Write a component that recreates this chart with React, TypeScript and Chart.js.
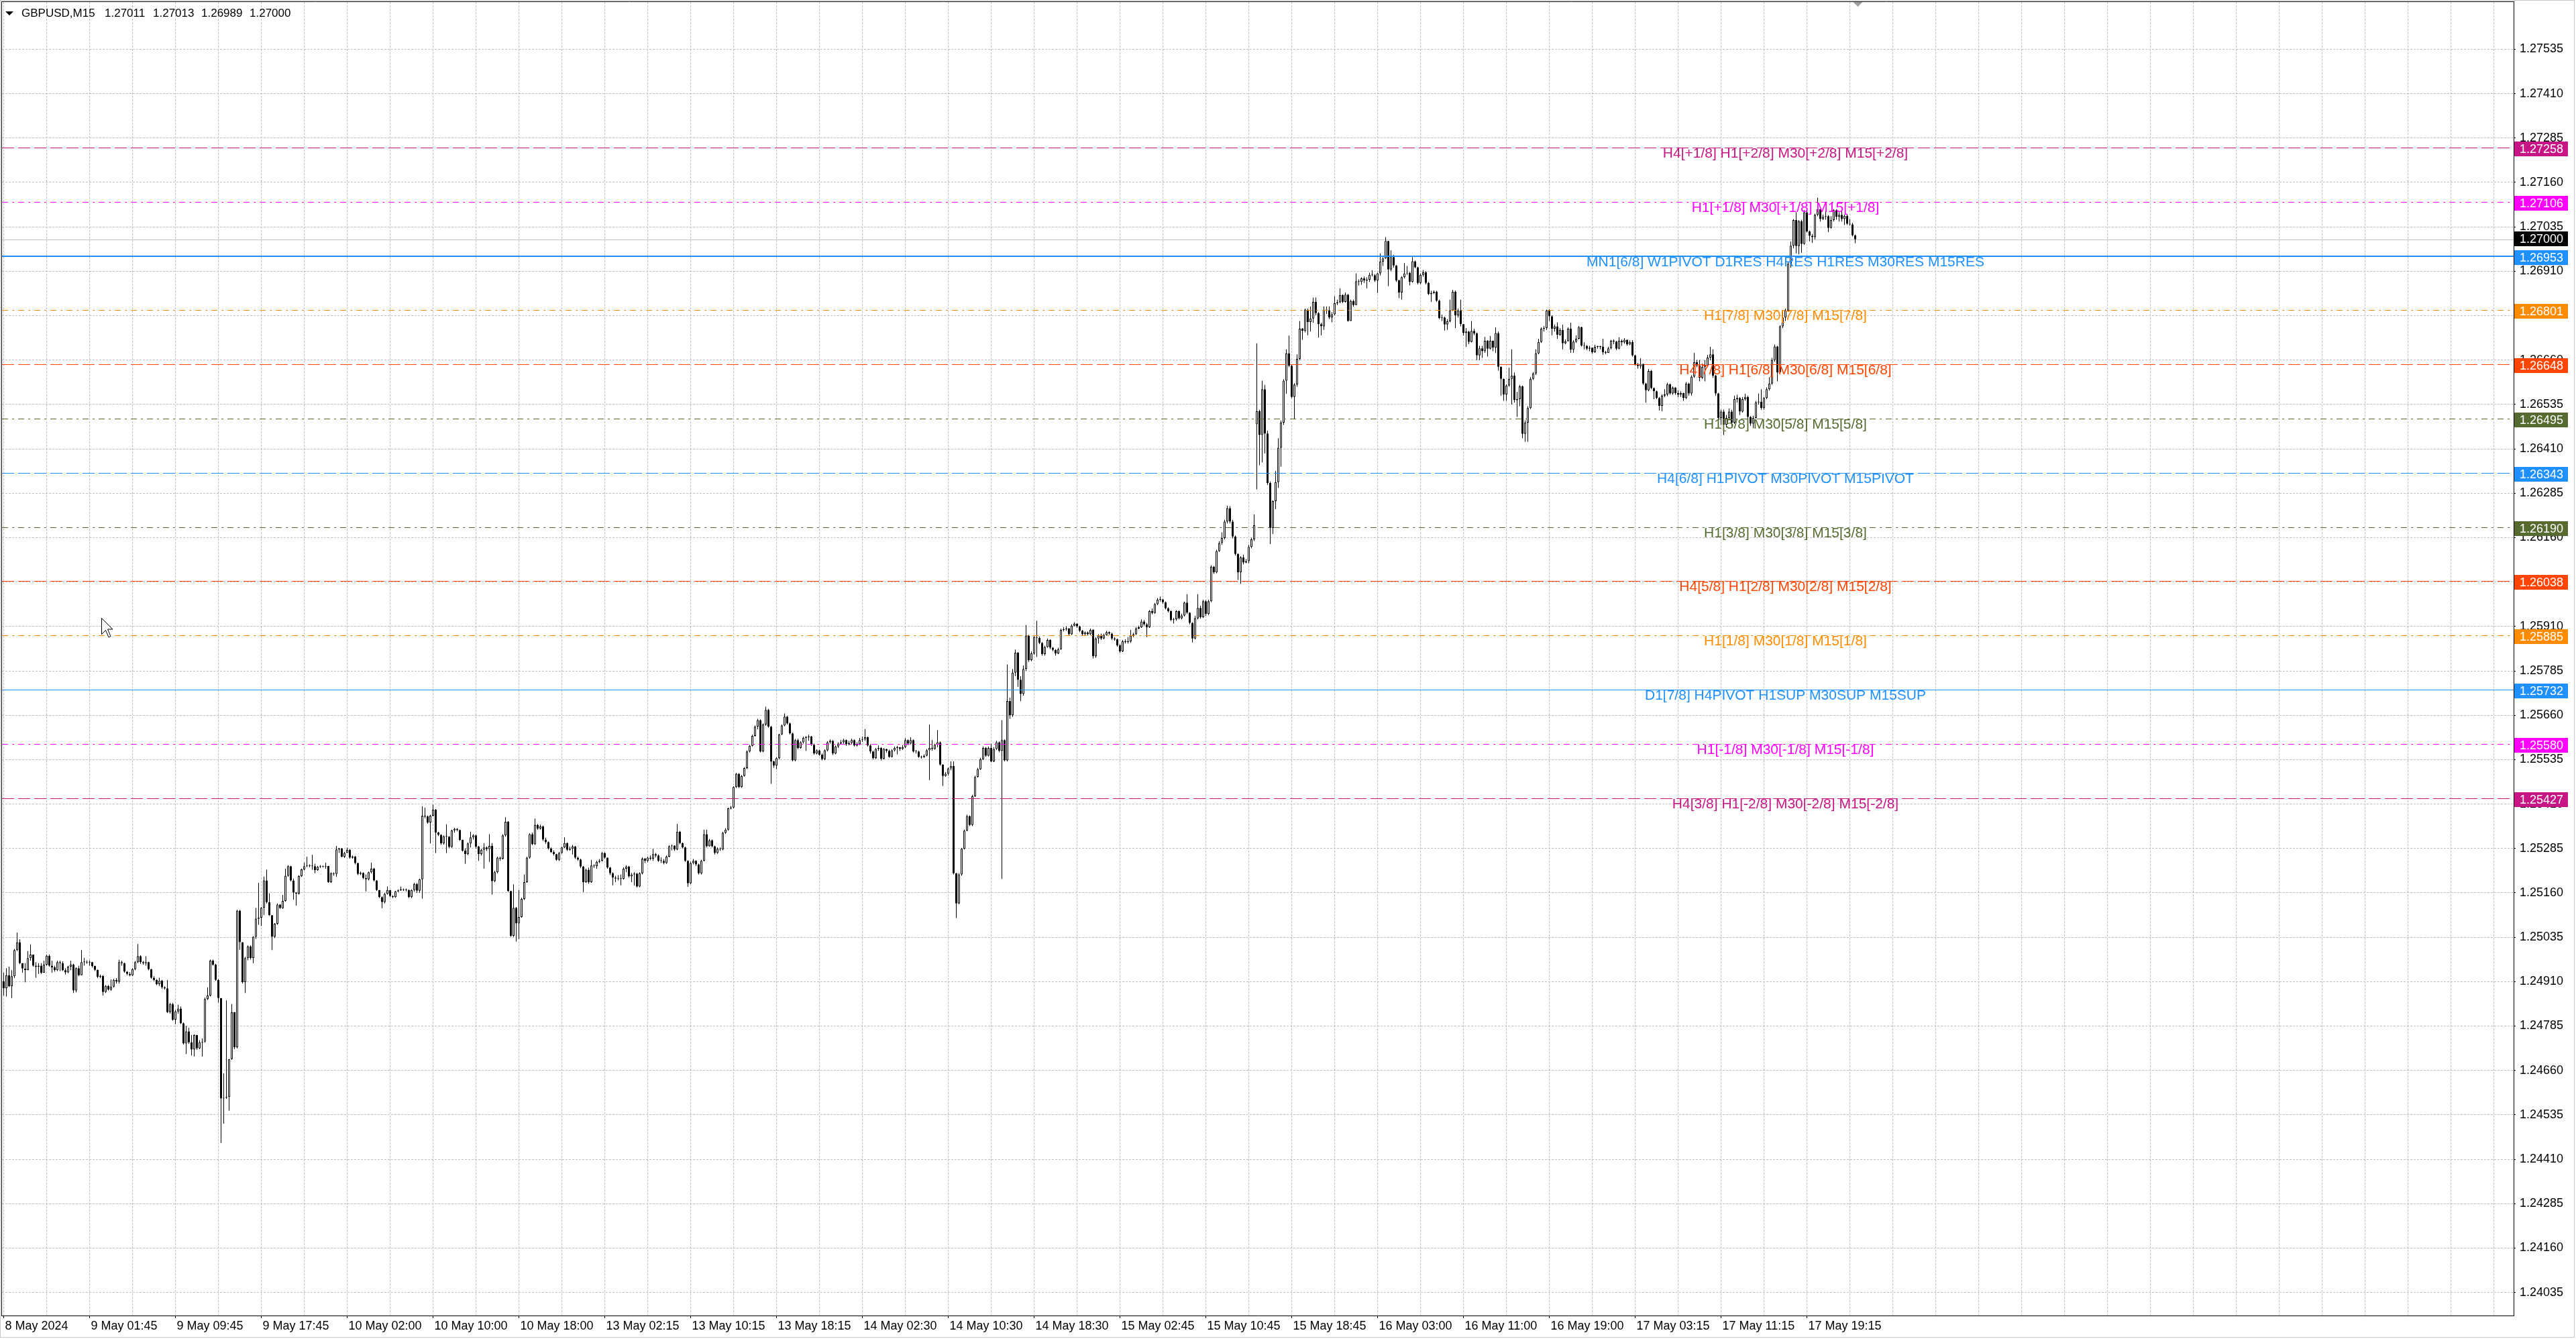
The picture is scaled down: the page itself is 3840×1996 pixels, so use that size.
import React, { useEffect, useRef } from 'react';
import { Chart, registerables } from 'chart.js';

Chart.register(...registerables);

// ---------------- data ----------------
const SYMBOL = 'GBPUSD,M15';
const HEADER_OHLC = ['1.27011', '1.27013', '1.26989', '1.27000'];

// prices are stored in points (0.00001) above 1.24000
const PRICE_BASE = 1.24;
const POINT = 0.00001;
const FIRST_OPEN = 911;
const OPEN_GAPS: [number, number][] = [[467, 2479]];

const CLOSE = [
  891, 928, 897, 925, 999, 1021, 962, 947, 942, 976,
  986, 955, 952, 955, 935, 958, 983, 955, 950, 942,
  965, 962, 942, 936, 952, 958, 885, 948, 928, 965,
  966, 964, 965, 954, 943, 924, 926, 881, 898, 888,
  896, 915, 910, 965, 962, 938, 932, 928, 945, 965,
  982, 965, 962, 965, 945, 921, 915, 903, 913, 894,
  891, 824, 847, 803, 826, 834, 793, 736, 770, 739,
  719, 760, 722, 739, 741, 861, 871, 969, 958, 915,
  864, 581, 583, 585, 692, 824, 725, 1110, 1021, 908,
  976, 1009, 976, 1036, 1087, 1090, 1118, 1195, 1134, 1097,
  1036, 1073, 1127, 1117, 1137, 1208, 1235, 1195, 1161, 1158,
  1207, 1226, 1235, 1237, 1236, 1235, 1224, 1233, 1235, 1234,
  1236, 1190, 1215, 1213, 1282, 1285, 1262, 1272, 1281, 1259,
  1262, 1244, 1213, 1216, 1202, 1198, 1218, 1228, 1195, 1168,
  1148, 1134, 1157, 1168, 1151, 1148, 1164, 1167, 1170, 1168,
  1168, 1148, 1168, 1185, 1166, 1198, 1377, 1375, 1358, 1377,
  1394, 1330, 1323, 1299, 1319, 1318, 1289, 1336, 1340, 1337,
  1309, 1279, 1269, 1299, 1316, 1322, 1290, 1269, 1281, 1288,
  1283, 1292, 1193, 1218, 1259, 1256, 1322, 1360, 1165, 1039,
  1118, 1074, 1092, 1143, 1190, 1259, 1325, 1297, 1351, 1341,
  1347, 1310, 1303, 1285, 1275, 1269, 1253, 1272, 1288, 1300,
  1281, 1284, 1290, 1259, 1254, 1234, 1190, 1225, 1190, 1237,
  1235, 1247, 1250, 1272, 1259, 1231, 1215, 1203, 1200, 1200,
  1199, 1228, 1234, 1206, 1212, 1214, 1178, 1215, 1256, 1250,
  1259, 1256, 1269, 1265, 1250, 1250, 1244, 1262, 1291, 1293,
  1282, 1332, 1300, 1288, 1250, 1187, 1244, 1250, 1240, 1215,
  1250, 1325, 1291, 1308, 1291, 1272, 1284, 1282, 1329, 1338,
  1398, 1400, 1458, 1495, 1458, 1489, 1511, 1558, 1574, 1602,
  1628, 1646, 1558, 1634, 1675, 1628, 1530, 1518, 1539, 1606,
  1631, 1656, 1637, 1609, 1533, 1590, 1568, 1584, 1596, 1598,
  1600, 1577, 1552, 1561, 1549, 1536, 1561, 1584, 1588, 1552,
  1572, 1580, 1584, 1590, 1578, 1582, 1590, 1575, 1578, 1590,
  1592, 1598, 1575, 1558, 1539, 1565, 1568, 1537, 1565, 1560,
  1543, 1561, 1568, 1570, 1565, 1570, 1590, 1580, 1590, 1558,
  1558, 1543, 1542, 1546, 1561, 1568, 1565, 1577, 1584, 1521,
  1489, 1495, 1510, 1517, 1215, 1130, 1212, 1284, 1335, 1376,
  1351, 1432, 1486, 1508, 1536, 1568, 1546, 1568, 1530, 1565,
  1584, 1560, 1590, 1533, 1700, 1660, 1780, 1836, 1760, 1720,
  1790, 1884, 1815, 1834, 1880, 1878, 1864, 1832, 1852, 1872,
  1850, 1844, 1834, 1846, 1900, 1902, 1904, 1888, 1912, 1918,
  1910, 1898, 1888, 1893, 1888, 1900, 1826, 1876, 1884, 1876,
  1886, 1894, 1890, 1876, 1874, 1857, 1840, 1868, 1866, 1868,
  1884, 1888, 1904, 1908, 1924, 1916, 1908, 1953, 1948, 1973,
  1985, 1986, 1978, 1961, 1953, 1928, 1930, 1953, 1933, 1941,
  1977, 1949, 1920, 1876, 1933, 1962, 1936, 1981, 1945, 1981,
  2078, 2062, 2122, 2145, 2159, 2205, 2243, 2205, 2163, 2114,
  2062, 2104, 2090, 2094, 2134, 2155, 2195, 2516, 2449, 2578,
  2453, 2314, 2187, 2263, 2316, 2413, 2484, 2602, 2679, 2644,
  2556, 2591, 2663, 2748, 2742, 2802, 2767, 2777, 2824, 2792,
  2761, 2755, 2802, 2800, 2780, 2789, 2820, 2823, 2843, 2824,
  2844, 2770, 2826, 2815, 2882, 2880, 2890, 2884, 2886, 2900,
  2899, 2884, 2904, 2937, 2946, 2995, 2915, 2950, 2926, 2884,
  2850, 2893, 2904, 2906, 2880, 2938, 2921, 2877, 2900, 2907,
  2877, 2846, 2849, 2852, 2827, 2778, 2780, 2760, 2769, 2800,
  2852, 2786, 2799, 2761, 2736, 2740, 2711, 2742, 2735, 2673,
  2693, 2685, 2714, 2692, 2714, 2695, 2736, 2641, 2607, 2563,
  2588, 2607, 2616, 2547, 2550, 2586, 2452, 2484, 2525, 2607,
  2622, 2679, 2711, 2748, 2750, 2799, 2783, 2748, 2755, 2731,
  2745, 2707, 2713, 2748, 2689, 2712, 2720, 2753, 2701, 2700,
  2692, 2695, 2682, 2697, 2697, 2698, 2682, 2680, 2693, 2714,
  2712, 2692, 2714, 2710, 2717, 2704, 2711, 2673, 2648, 2643,
  2649, 2594, 2575, 2629, 2581, 2572, 2553, 2531, 2560, 2563,
  2592, 2566, 2582, 2567, 2562, 2567, 2553, 2594, 2566, 2613,
  2654, 2645, 2610, 2641, 2645, 2667, 2676, 2616, 2566, 2497,
  2515, 2478, 2497, 2515, 2484, 2550, 2553, 2515, 2550, 2556,
  2500, 2481, 2497, 2541, 2543, 2525, 2553, 2578, 2594, 2660,
  2698, 2625, 2755, 2780, 2799, 2931, 2982, 3054, 2981, 3051,
  2987, 3076, 3022, 3010, 3006, 3069, 3085, 3057, 3063, 3065,
  3032, 3054, 3082, 3063, 3069, 3057, 3066, 3044, 3042, 3011,
  3000,
];

const HIGH = [
  935, 948, 952, 942, 1002, 1048, 1029, 962, 962, 996,
  1015, 986, 965, 962, 962, 969, 986, 986, 969, 955,
  969, 969, 967, 948, 955, 969, 960, 950, 955, 999,
  977, 970, 970, 966, 955, 944, 930, 928, 900, 900,
  916, 918, 920, 972, 969, 963, 940, 937, 948, 968,
  1016, 984, 968, 982, 966, 946, 925, 917, 921, 915,
  897, 915, 850, 850, 830, 845, 840, 795, 786, 780,
  760, 762, 758, 745, 750, 865, 894, 972, 972, 960,
  917, 864, 652, 857, 692, 847, 824, 1112, 1112, 1021,
  980, 1012, 1012, 1038, 1118, 1188, 1120, 1205, 1225, 1159,
  1097, 1075, 1130, 1128, 1154, 1228, 1238, 1236, 1200, 1162,
  1210, 1228, 1245, 1262, 1240, 1267, 1242, 1236, 1238, 1237,
  1245, 1236, 1218, 1218, 1292, 1287, 1286, 1275, 1287, 1283,
  1265, 1264, 1245, 1220, 1218, 1212, 1220, 1245, 1230, 1196,
  1168, 1150, 1160, 1178, 1168, 1153, 1166, 1170, 1178, 1172,
  1172, 1170, 1170, 1188, 1188, 1200, 1404, 1400, 1378, 1380,
  1408, 1396, 1332, 1325, 1322, 1353, 1320, 1338, 1343, 1342,
  1338, 1310, 1285, 1302, 1332, 1325, 1323, 1292, 1284, 1300,
  1290, 1325, 1300, 1222, 1262, 1262, 1325, 1373, 1362, 1166,
  1184, 1120, 1168, 1146, 1212, 1262, 1328, 1330, 1369, 1354,
  1352, 1349, 1315, 1305, 1288, 1280, 1270, 1275, 1290, 1316,
  1302, 1290, 1295, 1292, 1262, 1256, 1236, 1228, 1231, 1253,
  1240, 1250, 1255, 1275, 1274, 1260, 1233, 1218, 1208, 1210,
  1212, 1232, 1238, 1236, 1216, 1218, 1216, 1218, 1260, 1258,
  1262, 1265, 1284, 1272, 1268, 1260, 1255, 1265, 1294, 1296,
  1294, 1354, 1334, 1302, 1290, 1252, 1247, 1255, 1252, 1242,
  1253, 1338, 1338, 1312, 1310, 1293, 1288, 1288, 1332, 1342,
  1400, 1405, 1460, 1498, 1497, 1492, 1514, 1561, 1577, 1605,
  1631, 1650, 1648, 1637, 1684, 1678, 1630, 1532, 1542, 1608,
  1634, 1665, 1658, 1639, 1611, 1593, 1594, 1587, 1600, 1602,
  1605, 1602, 1580, 1564, 1563, 1552, 1564, 1587, 1592, 1590,
  1575, 1584, 1590, 1594, 1592, 1588, 1594, 1592, 1584, 1596,
  1600, 1621, 1600, 1578, 1560, 1568, 1575, 1570, 1568, 1566,
  1563, 1564, 1572, 1574, 1570, 1576, 1595, 1592, 1598, 1592,
  1562, 1560, 1546, 1550, 1565, 1634, 1590, 1580, 1618, 1586,
  1522, 1500, 1513, 1530, 1530, 1216, 1215, 1287, 1338, 1380,
  1378, 1436, 1490, 1512, 1540, 1572, 1570, 1572, 1580, 1570,
  1588, 1586, 1646, 1592, 1803, 1710, 1790, 1845, 1838, 1770,
  1800, 1914, 1886, 1840, 1884, 1926, 1882, 1866, 1856, 1876,
  1874, 1852, 1846, 1850, 1904, 1908, 1910, 1906, 1916, 1922,
  1916, 1912, 1900, 1896, 1896, 1904, 1902, 1880, 1888, 1890,
  1890, 1898, 1896, 1892, 1880, 1876, 1860, 1872, 1874, 1880,
  1900, 1892, 1908, 1912, 1930, 1928, 1920, 1956, 1960, 1976,
  1990, 1994, 1988, 1980, 1964, 1955, 1934, 1956, 1955, 1946,
  1980, 2001, 1950, 1922, 1940, 2001, 1968, 1985, 1984, 1985,
  2082, 2080, 2126, 2150, 2175, 2210, 2250, 2248, 2210, 2166,
  2116, 2108, 2112, 2100, 2140, 2160, 2225, 2707, 2520, 2602,
  2590, 2461, 2318, 2265, 2348, 2440, 2490, 2606, 2690, 2729,
  2648, 2595, 2676, 2770, 2750, 2805, 2805, 2811, 2836, 2836,
  2795, 2765, 2811, 2811, 2811, 2795, 2840, 2830, 2862, 2845,
  2850, 2846, 2830, 2830, 2904, 2887, 2893, 2895, 2893, 2906,
  2913, 2902, 2906, 2960, 2950, 3006, 2994, 2969, 2956, 2927,
  2886, 2896, 2933, 2925, 2908, 2950, 2940, 2923, 2904, 2913,
  2910, 2880, 2855, 2856, 2855, 2830, 2788, 2782, 2775, 2830,
  2858, 2856, 2805, 2830, 2762, 2750, 2742, 2770, 2748, 2738,
  2700, 2700, 2725, 2716, 2728, 2715, 2752, 2740, 2642, 2608,
  2592, 2638, 2690, 2625, 2570, 2590, 2588, 2490, 2530, 2612,
  2626, 2690, 2720, 2752, 2756, 2802, 2803, 2786, 2760, 2766,
  2750, 2760, 2718, 2752, 2765, 2716, 2730, 2756, 2754, 2710,
  2702, 2700, 2696, 2703, 2700, 2700, 2720, 2686, 2697, 2717,
  2718, 2714, 2724, 2718, 2722, 2718, 2715, 2716, 2675, 2652,
  2665, 2650, 2596, 2635, 2632, 2583, 2574, 2556, 2563, 2578,
  2596, 2594, 2586, 2584, 2575, 2572, 2568, 2598, 2596, 2617,
  2680, 2660, 2660, 2650, 2660, 2674, 2697, 2690, 2618, 2568,
  2520, 2520, 2505, 2524, 2520, 2560, 2562, 2556, 2556, 2565,
  2560, 2502, 2503, 2545, 2566, 2578, 2556, 2583, 2612, 2666,
  2704, 2700, 2758, 2800, 2805, 2935, 2994, 3057, 3076, 3054,
  3055, 3082, 3082, 3025, 3015, 3072, 3117, 3085, 3070, 3080,
  3068, 3065, 3085, 3085, 3076, 3082, 3070, 3070, 3057, 3046,
  3013,
];

const LOW = [
  871, 868, 895, 864, 920, 996, 959, 935, 908, 942,
  969, 952, 921, 932, 932, 935, 955, 952, 935, 938,
  940, 940, 940, 930, 934, 942, 878, 880, 925, 928,
  955, 960, 955, 950, 940, 920, 920, 871, 878, 885,
  884, 893, 905, 905, 955, 935, 928, 925, 926, 942,
  962, 960, 958, 955, 942, 918, 912, 900, 898, 890,
  888, 822, 820, 800, 790, 820, 790, 733, 706, 735,
  702, 699, 718, 720, 699, 738, 858, 868, 955, 912,
  851, 456, 510, 580, 547, 690, 720, 722, 1000, 905,
  878, 970, 972, 962, 1030, 1070, 1067, 1097, 1130, 1095,
  999, 1033, 1070, 1115, 1115, 1135, 1205, 1192, 1141, 1124,
  1155, 1205, 1223, 1232, 1232, 1225, 1215, 1222, 1230, 1231,
  1228, 1188, 1188, 1208, 1205, 1272, 1260, 1258, 1275, 1256,
  1256, 1240, 1210, 1210, 1199, 1164, 1195, 1215, 1192, 1165,
  1145, 1117, 1130, 1155, 1148, 1145, 1146, 1162, 1166, 1165,
  1164, 1145, 1145, 1163, 1160, 1160, 1144, 1370, 1355, 1299,
  1375, 1272, 1320, 1295, 1296, 1272, 1286, 1287, 1330, 1333,
  1306, 1276, 1242, 1266, 1288, 1310, 1285, 1250, 1265, 1228,
  1278, 1247, 1155, 1190, 1215, 1250, 1254, 1318, 1162, 1036,
  1036, 1023, 1030, 1090, 1140, 1188, 1256, 1294, 1295, 1338,
  1338, 1306, 1298, 1282, 1272, 1265, 1250, 1250, 1270, 1286,
  1278, 1279, 1268, 1255, 1250, 1230, 1162, 1188, 1186, 1188,
  1230, 1228, 1244, 1248, 1256, 1228, 1210, 1181, 1190, 1195,
  1181, 1197, 1218, 1203, 1190, 1181, 1175, 1176, 1212, 1244,
  1246, 1252, 1250, 1260, 1247, 1244, 1240, 1242, 1260, 1280,
  1278, 1280, 1297, 1285, 1247, 1177, 1185, 1240, 1236, 1212,
  1212, 1248, 1288, 1290, 1288, 1268, 1270, 1278, 1280, 1326,
  1335, 1395, 1398, 1455, 1455, 1456, 1487, 1509, 1555, 1572,
  1600, 1620, 1555, 1556, 1630, 1625, 1467, 1512, 1508, 1536,
  1604, 1629, 1634, 1606, 1530, 1530, 1564, 1566, 1580, 1560,
  1588, 1574, 1549, 1550, 1546, 1533, 1534, 1558, 1580, 1548,
  1550, 1568, 1578, 1580, 1574, 1576, 1578, 1572, 1572, 1576,
  1585, 1588, 1572, 1552, 1535, 1537, 1560, 1533, 1535, 1555,
  1540, 1541, 1558, 1550, 1560, 1562, 1568, 1576, 1578, 1555,
  1552, 1540, 1538, 1540, 1544, 1477, 1560, 1563, 1570, 1518,
  1461, 1487, 1490, 1505, 1212, 1089, 1128, 1208, 1282, 1333,
  1348, 1348, 1430, 1484, 1506, 1534, 1543, 1544, 1527, 1528,
  1562, 1556, 1199, 1530, 1530, 1650, 1655, 1770, 1740, 1700,
  1715, 1785, 1810, 1812, 1830, 1824, 1860, 1828, 1828, 1850,
  1846, 1840, 1828, 1832, 1844, 1896, 1898, 1884, 1886, 1910,
  1906, 1894, 1884, 1886, 1884, 1886, 1820, 1822, 1862, 1872,
  1874, 1884, 1886, 1872, 1870, 1853, 1836, 1838, 1862, 1862,
  1864, 1880, 1886, 1902, 1906, 1912, 1880, 1906, 1944, 1946,
  1970, 1980, 1974, 1958, 1950, 1925, 1918, 1926, 1930, 1930,
  1938, 1945, 1916, 1865, 1874, 1930, 1932, 1934, 1940, 1942,
  1978, 2058, 2060, 2120, 2140, 2155, 2200, 2200, 2158, 2110,
  2041, 2030, 2085, 2088, 2088, 2130, 2150, 2296, 2364, 2372,
  2397, 2308, 2142, 2170, 2240, 2300, 2360, 2477, 2565, 2640,
  2553, 2493, 2585, 2660, 2717, 2738, 2730, 2740, 2765, 2786,
  2723, 2730, 2745, 2790, 2775, 2766, 2786, 2815, 2820, 2820,
  2822, 2768, 2770, 2810, 2815, 2870, 2872, 2877, 2862, 2880,
  2895, 2880, 2849, 2898, 2925, 2945, 2868, 2910, 2920, 2880,
  2834, 2830, 2890, 2900, 2870, 2878, 2918, 2873, 2874, 2895,
  2873, 2843, 2824, 2846, 2824, 2775, 2770, 2743, 2745, 2766,
  2798, 2750, 2780, 2755, 2729, 2697, 2705, 2710, 2730, 2660,
  2660, 2666, 2680, 2670, 2690, 2685, 2680, 2630, 2560, 2545,
  2545, 2585, 2535, 2540, 2500, 2530, 2440, 2430, 2430, 2522,
  2604, 2618, 2676, 2708, 2740, 2745, 2770, 2730, 2740, 2720,
  2728, 2690, 2705, 2714, 2680, 2680, 2708, 2718, 2698, 2690,
  2688, 2685, 2678, 2680, 2692, 2690, 2675, 2676, 2680, 2690,
  2705, 2688, 2690, 2700, 2706, 2700, 2702, 2670, 2645, 2636,
  2636, 2590, 2540, 2572, 2578, 2550, 2550, 2518, 2516, 2555,
  2558, 2562, 2562, 2562, 2555, 2556, 2545, 2550, 2560, 2560,
  2610, 2640, 2600, 2607, 2600, 2640, 2660, 2610, 2560, 2490,
  2478, 2449, 2470, 2495, 2475, 2480, 2540, 2505, 2512, 2545,
  2485, 2475, 2468, 2495, 2535, 2520, 2520, 2550, 2574, 2590,
  2655, 2600, 2620, 2750, 2770, 2796, 2920, 2975, 2960, 2958,
  2962, 2985, 3019, 2994, 2990, 3000, 3065, 3050, 3054, 3055,
  3020, 3030, 3050, 3055, 3050, 3050, 3040, 3040, 3038, 3008,
  2989,
];

const TIME_LABELS = [
  '8 May 2024', '9 May 01:45', '9 May 09:45', '9 May 17:45', '10 May 02:00',
  '10 May 10:00', '10 May 18:00', '13 May 02:15', '13 May 10:15', '13 May 18:15',
  '14 May 02:30', '14 May 10:30', '14 May 18:30', '15 May 02:45', '15 May 10:45',
  '15 May 18:45', '16 May 03:00', '16 May 11:00', '16 May 19:00', '17 May 03:15',
  '17 May 11:15', '17 May 19:15',
];
const BARS_PER_LABEL = 32;
const BARS_PER_GRID = 16;

const Y_TICKS = [
  1.24035, 1.2416, 1.24285, 1.2441, 1.24535, 1.2466, 1.24785, 1.2491, 1.25035, 1.2516,
  1.25285, 1.2541, 1.25535, 1.2566, 1.25785, 1.2591, 1.26035, 1.2616, 1.26285, 1.2641,
  1.26535, 1.2666, 1.26785, 1.2691, 1.27035, 1.2716, 1.27285, 1.2741, 1.27535,
];
const Y_MIN = 1.2397;
const Y_MAX = 1.27668;
const X_MIN = -0.625;
const X_MAX = 935.375;
const BID = 1.27;

const LEVEL_PRICES = [
  1.27258, 1.27106, 1.26953, 1.26801, 1.26648, 1.26495, 1.26343,
  1.2619, 1.26038, 1.25885, 1.25732, 1.2558, 1.25427,
];
const LEVEL_TEXTS = [
  'H4[+1/8] H1[+2/8] M30[+2/8] M15[+2/8]',
  'H1[+1/8] M30[+1/8] M15[+1/8]',
  'MN1[6/8] W1PIVOT D1RES H4RES H1RES M30RES M15RES',
  'H1[7/8] M30[7/8] M15[7/8]',
  'H4[7/8] H1[6/8] M30[6/8] M15[6/8]',
  'H1[5/8] M30[5/8] M15[5/8]',
  'H4[6/8] H1PIVOT M30PIVOT M15PIVOT',
  'H1[3/8] M30[3/8] M15[3/8]',
  'H4[5/8] H1[2/8] M30[2/8] M15[2/8]',
  'H1[1/8] M30[1/8] M15[1/8]',
  'D1[7/8] H4PIVOT H1SUP M30SUP M15SUP',
  'H1[-1/8] M30[-1/8] M15[-1/8]',
  'H4[3/8] H1[-2/8] M30[-2/8] M15[-2/8]',
];
const LEVEL_COLORS = [
  '#C71585', '#FF00FF', '#1E90FF', '#FF8C00', '#FF4500', '#556B2F', '#1E90FF',
  '#556B2F', '#FF4500', '#FF8C00', '#1E90FF', '#FF00FF', '#C71585',
];
const LEVEL_STYLES = [
  'dash', 'dashdot', 'solid', 'dashdot', 'dash', 'dashdot', 'dash',
  'dashdot', 'dash', 'dashdot', 'solid', 'dashdot', 'dash',
];
const LEVEL_WIDTHS = [1, 1, 2, 1, 1, 1, 1, 1, 1, 1, 1, 1, 1];
const LEVEL_TEXT_BAR = 664;

const FONT = '"Liberation Sans", Arial, Helvetica, sans-serif';
const DASHES: Record<string, number[]> = {
  solid: [],
  dash: [18, 6],
  dashdot: [9, 6, 3, 6],
};

export default function App() {
  const ref = useRef<HTMLCanvasElement>(null);

  useEffect(() => {
    document.body.style.margin = '0';
    document.body.style.overflow = 'hidden';
    const canvas = ref.current;
    if (!canvas) return;

    const toPrice = (v: number) => +(PRICE_BASE + v * POINT).toFixed(5);
    const opens = CLOSE.map((_, i) => (i === 0 ? FIRST_OPEN : CLOSE[i - 1]));
    OPEN_GAPS.forEach(([i, o]) => {
      opens[i] = o;
    });
    const bodies = CLOSE.map((c, i) => ({ x: i, y: [toPrice(opens[i]), toPrice(c)] }));
    const wicks = CLOSE.map((c, i) => ({
      x: i,
      y: [toPrice(Math.min(LOW[i], opens[i], c)), toPrice(Math.max(HIGH[i], opens[i], c))],
    }));
    const bodyFill = CLOSE.map((c, i) => (c >= opens[i] ? '#FFFFFF' : '#000000'));

    const gridBars: number[] = [];
    for (let b = 0; b <= X_MAX; b += BARS_PER_GRID) gridBars.push(b);
    const labelFor = (v: number) =>
      v % BARS_PER_LABEL === 0 && TIME_LABELS[v / BARS_PER_LABEL] ? TIME_LABELS[v / BARS_PER_LABEL] : '';

    const overlay = {
      id: 'mt4overlay',
      beforeDraw(chart: any) {
        const { ctx, width, height } = chart;
        ctx.save();
        ctx.fillStyle = '#FFFFFF';
        ctx.fillRect(0, 0, width, height);
        ctx.restore();
      },
      beforeDatasetsDraw(chart: any) {
        const { ctx, chartArea } = chart;
        const ys = chart.scales.y;
        const y = Math.round(ys.getPixelForValue(BID)) + 0.5;
        ctx.save();
        ctx.strokeStyle = '#C0C0C0';
        ctx.lineWidth = 1;
        ctx.beginPath();
        ctx.moveTo(chartArea.left, y);
        ctx.lineTo(chartArea.right, y);
        ctx.stroke();
        ctx.restore();
      },
      afterDatasetsDraw(chart: any) {
        const { ctx, chartArea } = chart;
        const ys = chart.scales.y;
        const xs = chart.scales.x;
        ctx.save();
        ctx.beginPath();
        ctx.rect(chartArea.left, chartArea.top, chartArea.right - chartArea.left, chartArea.bottom - chartArea.top);
        ctx.clip();
        LEVEL_PRICES.forEach((p, k) => {
          const w = LEVEL_WIDTHS[k];
          const yr = Math.round(ys.getPixelForValue(p));
          const y = w % 2 ? yr + 0.5 : yr;
          ctx.strokeStyle = LEVEL_COLORS[k];
          ctx.lineWidth = w;
          ctx.setLineDash(DASHES[LEVEL_STYLES[k]]);
          ctx.beginPath();
          ctx.moveTo(chartArea.left, y);
          ctx.lineTo(chartArea.right, y);
          ctx.stroke();
        });
        ctx.setLineDash([]);
        const tx = xs.getPixelForValue(LEVEL_TEXT_BAR);
        ctx.font = `21px ${FONT}`;
        ctx.textAlign = 'center';
        ctx.textBaseline = 'alphabetic';
        LEVEL_PRICES.forEach((p, k) => {
          const y = ys.getPixelForValue(p);
          ctx.fillStyle = LEVEL_COLORS[k];
          ctx.fillText(LEVEL_TEXTS[k], tx, y + 15);
        });
        ctx.restore();
      },
      afterDraw(chart: any) {
        const { ctx, chartArea, width, height } = chart;
        const ys = chart.scales.y;
        const xs = chart.scales.x;
        ctx.save();
        // outer window edge
        ctx.strokeStyle = '#C8C8C8';
        ctx.lineWidth = 1;
        ctx.strokeRect(0.5, 0.5, width - 3, height - 3);
        // plot frame (left / top)
        ctx.strokeStyle = '#000000';
        ctx.beginPath();
        ctx.moveTo(chartArea.left - 0.5, chartArea.top - 1);
        ctx.lineTo(chartArea.left - 0.5, chartArea.bottom + 1);
        ctx.moveTo(chartArea.left - 1, chartArea.top - 0.5);
        ctx.lineTo(chartArea.right + 1, chartArea.top - 0.5);
        ctx.stroke();

        // price tags on the right axis
        ctx.font = `18px ${FONT}`;
        ctx.textAlign = 'left';
        ctx.textBaseline = 'middle';
        const bx = ys.left + 1;
        LEVEL_PRICES.forEach((p, k) => {
          const y = ys.getPixelForValue(p) + 2;
          ctx.fillStyle = LEVEL_COLORS[k];
          ctx.fillRect(bx, Math.round(y - 11), 80, 22);
          ctx.fillStyle = '#FFFFFF';
          ctx.fillText(p.toFixed(5), bx + 8, y + 1);
        });
        {
          const y = ys.getPixelForValue(BID) - 1;
          ctx.fillStyle = '#000000';
          ctx.fillRect(bx, Math.round(y - 11), 80, 22);
          ctx.fillStyle = '#FFFFFF';
          ctx.fillText(BID.toFixed(5), bx + 8, y + 1);
        }

        // header
        ctx.fillStyle = '#000000';
        ctx.beginPath();
        ctx.moveTo(8, 17);
        ctx.lineTo(20, 17);
        ctx.lineTo(14, 23);
        ctx.closePath();
        ctx.fill();
        ctx.font = `17px ${FONT}`;
        ctx.textBaseline = 'middle';
        ctx.fillText(SYMBOL, 32, 20);
        const hx = [156, 228, 300, 372];
        HEADER_OHLC.forEach((t, k) => ctx.fillText(t, hx[k], 20));

        // chart shift marker
        const sx = xs.getPixelForValue(CLOSE.length);
        ctx.fillStyle = '#A0A0A0';
        ctx.beginPath();
        ctx.moveTo(sx - 7, chartArea.top);
        ctx.lineTo(sx + 7, chartArea.top);
        ctx.lineTo(sx, chartArea.top + 7);
        ctx.closePath();
        ctx.fill();

        // mouse pointer
        const cx = 151;
        const cy = 921;
        const s = 1.5;
        const pts = [[0, 0], [0, 16], [4, 12], [7, 19], [9, 18], [6, 11], [11, 11]];
        ctx.beginPath();
        pts.forEach(([px, py], k) => {
          const X = cx + px * s + 0.5;
          const Y = cy + py * s + 0.5;
          if (k === 0) ctx.moveTo(X, Y);
          else ctx.lineTo(X, Y);
        });
        ctx.closePath();
        ctx.fillStyle = '#FFFFFF';
        ctx.fill();
        ctx.strokeStyle = '#000000';
        ctx.lineWidth = 1;
        ctx.stroke();
        ctx.restore();
      },
    };

    const chart = new Chart(canvas, {
      type: 'bar',
      data: {
        datasets: [
          {
            type: 'bar',
            label: 'wicks',
            data: wicks as any,
            backgroundColor: '#000000',
            borderWidth: 0,
            barThickness: 1,
            grouped: false,
            inflateAmount: 0,
            order: 2,
          } as any,
          {
            type: 'bar',
            label: 'bodies',
            data: bodies as any,
            backgroundColor: bodyFill,
            borderColor: '#000000',
            borderWidth: 1,
            borderSkipped: false,
            barThickness: 3,
            minBarLength: 1,
            grouped: false,
            inflateAmount: 0,
            order: 1,
          } as any,
        ],
      },
      options: {
        responsive: false,
        maintainAspectRatio: false,
        devicePixelRatio: 1,
        animation: false,
        events: [],
        layout: { autoPadding: false, padding: { left: 3, top: 3, right: 0, bottom: 0 } },
        plugins: { legend: { display: false }, tooltip: { enabled: false }, title: { display: false } },
        scales: {
          x: {
            type: 'linear',
            min: X_MIN,
            max: X_MAX,
            offset: false,
            bounds: 'data',
            afterBuildTicks: (s: any) => {
              s.ticks = gridBars.map((v) => ({ value: v }));
            },
            afterFit: (s: any) => {
              s.height = 35;
              s.paddingLeft = 0;
              s.paddingRight = 0;
            },
            grid: {
              color: '#C0C0C0',
              lineWidth: 1,
              drawTicks: true,
              tickLength: 4,
              offset: false,
              tickColor: (c: any) => (c.tick && labelFor(c.tick.value) ? '#000000' : 'rgba(0,0,0,0)'),
            },
            border: { display: true, color: '#000000', width: 1, dash: [3, 2] },
            ticks: {
              autoSkip: false,
              maxRotation: 0,
              minRotation: 0,
              align: 'start',
              labelOffset: 2,
              padding: 1,
              color: '#000000',
              font: { family: FONT, size: 18 },
              callback: (v: any) => labelFor(Number(v)),
            },
          } as any,
          y: {
            type: 'linear',
            position: 'right',
            min: Y_MIN,
            max: Y_MAX,
            bounds: 'data',
            afterBuildTicks: (s: any) => {
              s.ticks = Y_TICKS.map((v) => ({ value: v }));
            },
            afterFit: (s: any) => {
              s.width = 93;
              s.paddingTop = 0;
              s.paddingBottom = 0;
            },
            grid: { color: '#C0C0C0', lineWidth: 1, drawTicks: true, tickLength: 3, tickColor: '#000000' },
            border: { display: true, color: '#000000', width: 1, dash: [3, 2] },
            ticks: {
              autoSkip: false,
              padding: 6,
              color: '#000000',
              font: { family: FONT, size: 18 },
              callback: (v: any) => Number(v).toFixed(5),
            },
          } as any,
        },
      },
      plugins: [overlay],
    } as any);

    return () => {
      chart.destroy();
    };
  }, []);

  return (
    <div style={{ width: 3840, height: 1996, overflow: 'hidden', background: '#FFFFFF' }}>
      <canvas ref={ref} width={3840} height={1996} style={{ display: 'block' }} />
    </div>
  );
}
